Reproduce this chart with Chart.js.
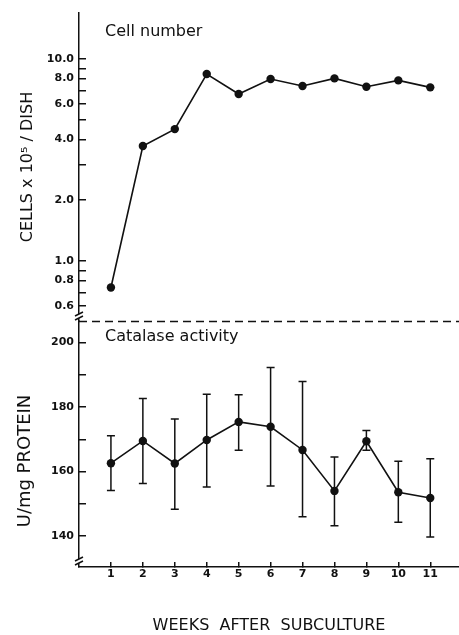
<!DOCTYPE html>
<html><head><meta charset="utf-8">
<script src="https://cdn.jsdelivr.net/npm/chart.js@4.4.1/dist/chart.umd.min.js"></script>
<style>html,body{margin:0;padding:0;background:#fff;}#wrap{width:459px;height:635px;position:relative;}canvas{display:block;}</style>
</head><body><div id="wrap"><canvas id="c" width="459" height="635"></canvas></div>
<script>
// ---- data ----
const weeks = [1, 2, 3, 4, 5, 6, 7, 8, 9, 10, 11];
const cellNumber = [0.74, 3.71, 4.50, 8.43, 6.71, 7.96, 7.35, 8.02, 7.29, 7.84, 7.24];
const catalaseMean = [162.6, 169.5, 162.5, 169.8, 175.4, 173.9, 166.7, 154.0, 169.4, 153.6, 151.8];
const catalaseHigh = [171.1, 182.7, 176.3, 184.0, 183.8, 192.3, 187.9, 164.5, 172.7, 163.2, 164.0];
const catalaseLow = [154.1, 156.3, 148.3, 155.2, 166.6, 155.5, 146.0, 143.2, 166.6, 144.3, 139.7];
const cellTicks = [0.6, 0.7, 0.8, 0.9, 1, 2, 3, 4, 5, 6, 7, 8, 9, 10];
const cellTickLabels = [0.6, 0.8, 1, 2, 4, 6, 8, 10];
const catTicks = [140, 150, 160, 170, 180, 190, 200];
const catTickLabels = [140, 160, 180, 200];
const weekTicks = [1, 2, 3, 4, 5, 6, 7, 8, 9, 10, 11];
const xTitle = 'WEEKS  AFTER  SUBCULTURE';
const cellTitle = 'CELLS x 10\u2075 / DISH';
const catTitle = 'U/mg PROTEIN';
const cellPanelLabel = 'Cell number';
const catPanelLabel = 'Catalase activity';

const INK = '#111';
const FONT = "'DejaVu Sans', sans-serif";
Chart.defaults.font.family = FONT;
Chart.defaults.color = INK;

const decor = {
  id: 'decor',
  beforeDatasetsDraw(chart) {
    const { ctx, scales: { x, yCat } } = chart;
    ctx.save();
    ctx.strokeStyle = INK; ctx.lineWidth = 1.5;
    weeks.forEach((w, i) => {
      const px = x.getPixelForValue(w);
      const hi = yCat.getPixelForValue(catalaseHigh[i]);
      const lo = yCat.getPixelForValue(catalaseLow[i]);
      ctx.beginPath();
      ctx.moveTo(px, hi); ctx.lineTo(px, lo);
      ctx.moveTo(px - 4, hi); ctx.lineTo(px + 4, hi);
      ctx.moveTo(px - 4, lo); ctx.lineTo(px + 4, lo);
      ctx.stroke();
    });
    ctx.restore();
  },
  afterDraw(chart) {
    const { ctx, chartArea, scales: { yCell, yCat } } = chart;
    ctx.save();
    // dashed separator
    ctx.strokeStyle = INK; ctx.lineWidth = 1.5; ctx.setLineDash([8, 5]);
    ctx.beginPath(); ctx.moveTo(chartArea.left, yCell.bottom + 0.5); ctx.lineTo(chart.width, yCell.bottom + 0.5); ctx.stroke();
    ctx.setLineDash([]);
    // axis breaks
    const ax = chartArea.left;
    [yCell.bottom - 5, chartArea.bottom - 6].forEach(by => {
      ctx.fillStyle = '#fff';
      ctx.fillRect(ax - 2, by - 2, 4, 4);
      ctx.beginPath();
      ctx.moveTo(ax - 4, by); ctx.lineTo(ax + 4, by - 4);
      ctx.moveTo(ax - 4, by + 4); ctx.lineTo(ax + 4, by);
      ctx.stroke();
    });
    // panel labels
    ctx.fillStyle = INK;
    ctx.font = "16px " + FONT;
    ctx.textAlign = 'left'; ctx.textBaseline = 'middle';
    ctx.fillText(cellPanelLabel, chartArea.left + 26, yCell.top + 19);
    ctx.fillText(catPanelLabel, chartArea.left + 26, yCat.top + 16);
    // lower y title
    ctx.save();
    ctx.translate(25, (yCat.top + yCat.bottom) / 2 + 17);
    ctx.rotate(-Math.PI / 2);
    ctx.font = "18px " + FONT;
    ctx.textAlign = 'center'; ctx.textBaseline = 'middle';
    ctx.fillText(catTitle, 0, 0);
    ctx.restore();
    ctx.restore();
  }
};

const lineStyle = {
  borderColor: INK, backgroundColor: INK, borderWidth: 1.6,
  pointRadius: 4.2, pointBackgroundColor: INK, pointBorderColor: INK, pointBorderWidth: 0,
  tension: 0
};

const fitY = s => { s.width = 79; s.paddingTop = 0; s.paddingBottom = 0; };

new Chart(document.getElementById('c'), {
  type: 'line',
  data: {
    datasets: [
      Object.assign({ label: cellPanelLabel, yAxisID: 'yCell',
        data: weeks.map((w, i) => ({ x: w, y: cellNumber[i] })) }, lineStyle),
      Object.assign({ label: catPanelLabel, yAxisID: 'yCat',
        data: weeks.map((w, i) => ({ x: w, y: catalaseMean[i] })) }, lineStyle)
    ]
  },
  options: {
    responsive: false, animation: false, devicePixelRatio: 1,
    layout: { autoPadding: false, padding: { top: 13, left: 0, right: 0, bottom: 0 } },
    plugins: { legend: { display: false }, tooltip: { enabled: false } },
    scales: {
      x: {
        type: 'linear', min: 0, max: 11.9,
        afterBuildTicks: s => { s.ticks = weekTicks.map(v => ({ value: v })); },
        afterFit: s => { s.height = 68; s.paddingLeft = 0; s.paddingRight = 0; },
        grid: { drawOnChartArea: false, tickLength: -5, lineWidth: 1.5, color: INK },
        border: { color: INK, width: 1.5 },
        ticks: { autoSkip: false, maxRotation: 0, padding: 6, font: { size: 11, weight: 'bold' }, color: INK,
          callback: v => String(v) },
        title: { display: true, text: xTitle, font: { size: 16 }, color: INK, padding: { top: 0, bottom: 0 } }
      },
      yCat: {
        type: 'linear', position: 'left', stack: 'v', stackWeight: 246,
        min: 130.4, max: 206.7,
        afterBuildTicks: s => { s.ticks = catTicks.map(v => ({ value: v })); },
        afterFit: fitY,
        grid: { drawOnChartArea: false, tickLength: -7, lineWidth: 1.5, color: INK },
        border: { color: INK, width: 1.5 },
        ticks: { autoSkip: false, padding: 12, font: { size: 11, weight: 'bold' }, color: INK,
          callback: v => catTickLabels.includes(v) ? String(v) : '' },
        title: { display: false }
      },
      yCell: {
        type: 'logarithmic', position: 'left', stack: 'v', stackWeight: 308,
        min: 0.505, max: 16.9,
        afterBuildTicks: s => { s.ticks = cellTicks.map(v => ({ value: v })); },
        afterFit: fitY,
        grid: { drawOnChartArea: false, tickLength: -7, lineWidth: 1.5, color: INK },
        border: { color: INK, width: 1.5 },
        ticks: { autoSkip: false, padding: 12, font: { size: 11, weight: 'bold' }, color: INK,
          callback: v => cellTickLabels.includes(v) ? v.toFixed(1) : '' },
        title: { display: true, text: cellTitle, font: { size: 16 }, color: INK, padding: { top: 18, bottom: 0 } }
      }
    }
  },
  plugins: [decor]
});
</script></body></html>
